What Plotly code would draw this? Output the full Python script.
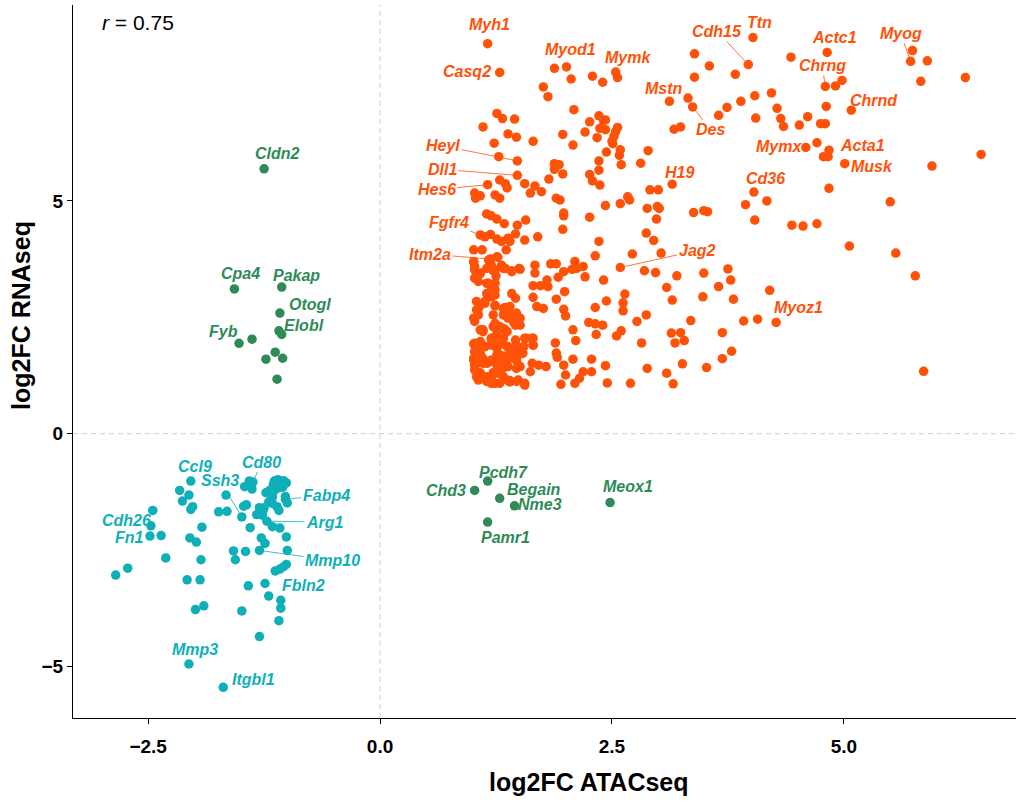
import plotly.graph_objects as go

# ---------------- data (log2FC ATACseq, log2FC RNAseq) ----------------
# Up-regulated (orange) labelled genes
up_genes = ["Myh1", "Casq2", "Myod1", "Mymk", "Cdh15", "Ttn", "Actc1", "Myog", "Chrng", "Mstn",
            "Des", "Chrnd", "Mymx", "Acta1", "Musk", "Cd36", "H19", "Heyl", "Dll1", "Hes6",
            "Fgfr4", "Itm2a", "Jag2", "Myoz1"]
up_gx = [1.16, 1.29, 2.01, 2.54, 3.97, 4.02, 4.82, 5.72, 4.80, 3.12,
         3.37, 5.08, 4.59, 4.84, 5.01, 4.03, 3.15, 1.48, 1.48, 1.16,
         1.08, 1.19, 2.59, 4.27]
up_gy = [8.38, 7.76, 7.88, 7.77, 7.93, 8.51, 8.19, 8.00, 7.46, 7.14,
         7.02, 6.95, 6.15, 6.09, 5.80, 5.19, 5.36, 5.86, 5.55, 5.35,
         4.27, 3.75, 3.57, 2.39]

# Up-regulated (orange) unlabelled genes
up_other = [
    (1.88, 7.85), (2.06, 7.62), (2.29, 7.68), (2.40, 7.55), (2.56, 7.65), (1.76, 7.45), (1.81, 7.24), (2.09, 6.96),
    (1.26, 6.88), (1.32, 6.77), (1.45, 6.76), (1.11, 6.59), (1.38, 6.44), (1.47, 6.37), (1.23, 6.24), (1.65, 6.28),
    (1.97, 6.43), (2.08, 6.20), (2.36, 6.83), (2.41, 6.73), (2.43, 6.74), (2.26, 6.70), (2.21, 6.48), (2.34, 6.36),
    (2.37, 6.56), (2.43, 6.53), (2.56, 6.58), (2.54, 6.49), (2.52, 6.38), (2.50, 6.28), (2.51, 6.23), (2.59, 6.10),
    (2.58, 5.98), (2.44, 6.05), (2.60, 5.78), (2.36, 5.86), (2.36, 5.66), (2.89, 6.08), (2.81, 5.81), (3.32, 7.21),
    (3.39, 7.66), (3.39, 8.16), (3.55, 7.90), (3.65, 6.84), (3.17, 6.54), (3.24, 6.59),
    (1.28, 5.95), (1.29, 5.45), (1.35, 5.37), (1.37, 5.28), (1.56, 5.37), (1.67, 5.32), (1.82, 5.47), (1.88, 5.80),
    (1.93, 5.78), (1.88, 5.68), (1.97, 5.58), (2.26, 5.57), (2.29, 5.43), (2.37, 5.34),
    (3.83, 7.72), (4.43, 8.09), (4.91, 7.47), (4.98, 7.59), (5.74, 8.23), (5.90, 8.01), (5.83, 7.57), (6.31, 7.65),
    (4.04, 7.26), (4.22, 7.32), (3.89, 7.14), (3.74, 7.01), (4.05, 6.78), (4.28, 6.99), (4.32, 6.77), (4.35, 6.60),
    (4.52, 6.63), (4.61, 6.81), (4.81, 7.03), (4.75, 6.66), (4.80, 6.66), (4.71, 6.25), (4.78, 5.95), (4.83, 5.95),
    (5.95, 5.75), (6.48, 6.00), (4.84, 5.27), (4.17, 5.00), (5.50, 4.98), (3.94, 4.92), (4.04, 4.59), (4.44, 4.48),
    (4.56, 4.46), (4.71, 4.51), (5.06, 4.03), (5.56, 3.88), (5.77, 3.39), (5.86, 1.34), (3.75, 3.54), (3.78, 3.30),
    (4.20, 3.08), (3.81, 2.89), (3.92, 2.42), (4.07, 2.46), (3.69, 2.17), (3.79, 1.77), (3.69, 1.61),
    (1.02, 5.17), (1.08, 5.11), (1.03, 5.06), (1.24, 5.13), (1.29, 5.06), (1.62, 5.17), (1.74, 5.20), (1.90, 5.06),
    (1.94, 5.02), (2.43, 4.90), (2.59, 4.94), (2.67, 5.09), (2.69, 5.02), (2.91, 5.24), (3.00, 5.24),
    (1.15, 4.72), (1.20, 4.68), (1.26, 4.61), (1.34, 4.51), (1.48, 4.48), (1.57, 4.59), (1.98, 4.74), (1.98, 4.68),
    (1.97, 4.39), (2.26, 4.65), (2.88, 4.84), (2.99, 4.88), (3.01, 4.84), (2.98, 4.61), (3.38, 4.75), (3.49, 4.79),
    (3.53, 4.77), (1.13, 4.23), (1.19, 4.28), (1.26, 4.18), (1.31, 4.13), (1.38, 4.20), (1.40, 4.13), (1.46, 4.29),
    (1.36, 3.95), (1.56, 4.16), (1.70, 4.23), (2.36, 4.13), (2.87, 4.31), (2.95, 4.15),
    (1.01, 3.95), (1.10, 3.95), (1.27, 3.79), (1.01, 3.70), (2.32, 3.82), (2.72, 3.86), (3.03, 3.88),
    (1.02, 3.52), (1.08, 3.45), (1.15, 3.55), (1.22, 3.50), (1.25, 3.39), (1.33, 3.55), (1.42, 3.50), (1.50, 3.55),
    (1.67, 3.62), (1.67, 3.45), (1.84, 3.65), (1.90, 3.65), (1.92, 3.36), (1.98, 3.48), (2.07, 3.53), (2.10, 3.70),
    (2.12, 3.55), (2.19, 3.59), (2.21, 3.37), (2.41, 3.30), (2.85, 3.50), (2.97, 3.46), (3.20, 3.39), (3.49, 3.45),
    (1.02, 3.34), (1.06, 3.27), (1.17, 3.23), (1.20, 3.14), (1.24, 3.09), (1.15, 3.01), (1.20, 2.94), (1.65, 3.18),
    (1.73, 3.18), (1.80, 3.30), (1.81, 3.16), (1.65, 2.93), (1.90, 2.89), (1.99, 3.05), (2.64, 3.00), (2.62, 2.81),
    (2.44, 2.85), (3.09, 3.14), (3.15, 2.87), (3.48, 2.94), (3.65, 3.16),
    (1.04, 2.84), (1.08, 2.76), (1.06, 2.69), (1.13, 2.80), (1.24, 2.74), (1.35, 2.71), (1.40, 2.73), (1.33, 2.55),
    (1.42, 2.55), (1.47, 2.59), (1.50, 2.48), (1.38, 2.48), (1.01, 2.48), (1.02, 2.41), (1.69, 2.73), (1.76, 2.69),
    (1.98, 2.67), (2.00, 2.53), (2.32, 2.71), (2.62, 2.64), (2.87, 2.55), (2.77, 2.41),
    (1.08, 2.23), (1.11, 2.19), (1.22, 2.30), (1.26, 2.23), (1.33, 2.26), (1.37, 2.19), (1.46, 2.33), (1.51, 2.33),
    (1.24, 2.08), (1.20, 2.03), (1.58, 2.05), (1.65, 2.05), (1.65, 1.90), (2.08, 2.23), (2.25, 2.39), (2.32, 2.36),
    (2.40, 2.33), (2.33, 2.13), (2.55, 2.10), (2.60, 2.21), (3.14, 2.16), (3.24, 2.17), (3.18, 1.95), (3.28, 2.00),
    (3.35, 2.43), (2.82, 1.95), (2.11, 2.00), (1.89, 1.95), (1.90, 1.73), (1.91, 1.64),
    (1.01, 1.93), (1.04, 1.87), (1.02, 1.76), (1.08, 1.73), (1.13, 1.87), (1.20, 1.90), (1.26, 1.83), (1.31, 1.93),
    (1.37, 1.87), (1.47, 1.90), (1.54, 1.73), (1.46, 1.80), (1.29, 1.69), (1.35, 1.67), (1.40, 1.62), (1.01, 1.58),
    (1.06, 1.52), (1.11, 1.51), (1.19, 1.55), (1.26, 1.47), (1.33, 1.51), (1.38, 1.44), (1.47, 1.57), (1.51, 1.44),
    (1.64, 1.51), (1.62, 1.33), (1.71, 1.47), (1.79, 1.44), (1.98, 1.47), (2.08, 1.60), (2.28, 1.60), (2.28, 1.33),
    (2.19, 1.33), (2.43, 1.46), (2.88, 1.40), (3.09, 1.30), (3.26, 1.50), (3.52, 1.42),
    (1.02, 1.37), (1.08, 1.31), (1.06, 1.15), (1.15, 1.22), (1.22, 1.31), (1.29, 1.31), (1.33, 1.22), (1.40, 1.14),
    (1.47, 1.12), (1.56, 1.04), (1.20, 1.08), (1.29, 1.08), (1.95, 1.06), (2.00, 1.26), (2.10, 1.08), (2.15, 1.19),
    (2.45, 1.09), (2.70, 1.08), (3.16, 1.07),
    (1.01, 3.69), (1.02, 3.59), (1.08, 3.44), (1.17, 3.73), (1.20, 3.62), (1.26, 3.80), (1.24, 3.52), (1.31, 3.62),
    (1.35, 3.55), (1.42, 3.48), (1.51, 3.53), (1.15, 3.23), (1.20, 3.16), (1.24, 3.23), (1.22, 3.05), (1.19, 2.98),
    (1.24, 2.98), (1.42, 3.01), (1.46, 2.91), (1.13, 2.84), (1.04, 2.66), (1.06, 2.55), (1.24, 2.76), (1.22, 2.55),
    (1.33, 2.69), (1.37, 2.55), (1.42, 2.48), (1.47, 2.51), (1.51, 2.48), (1.44, 2.40), (1.24, 2.37), (1.29, 2.30),
    (1.35, 2.23), (1.11, 2.23), (1.02, 1.94), (1.08, 1.98), (1.04, 1.83), (1.13, 1.87), (1.20, 2.05), (1.22, 1.94),
    (1.26, 2.12), (1.33, 2.05), (1.38, 1.87), (1.44, 1.80), (1.40, 1.69), (1.46, 2.01), (1.56, 2.05), (1.64, 2.05),
    (1.65, 1.90), (1.55, 1.87), (1.53, 1.72), (1.01, 1.62), (1.04, 1.54), (1.02, 1.47), (1.11, 1.62), (1.15, 1.51),
    (1.20, 1.58), (1.26, 1.69), (1.29, 1.62), (1.33, 1.51), (1.37, 1.44), (1.47, 1.62), (1.47, 1.40), (1.04, 1.22),
    (1.08, 1.19), (1.15, 1.12), (1.20, 1.22), (1.24, 1.08), (1.28, 1.29), (1.31, 1.37), (1.37, 1.15), (1.40, 1.11),
    (1.49, 1.15), (1.56, 1.08),
]

# Discordant (green) genes
mid_genes = ["Cldn2", "Cpa4", "Pakap", "Otogl", "Elobl", "Fyb", "Chd3", "Pcdh7", "Begain", "Nme3", "Pamr1", "Meox1"]
mid_gx = [-1.25, -1.57, -1.06, -1.08, -1.09, -1.52, 1.02, 1.16, 1.29, 1.45, 1.16, 2.48]
mid_gy = [5.69, 3.11, 3.15, 2.59, 2.21, 1.94, -1.22, -1.02, -1.39, -1.55, -1.90, -1.48]
mid_other = [(-1.06, 2.13), (-1.38, 2.03), (-1.13, 1.75), (-1.23, 1.60), (-1.05, 1.62), (-1.11, 1.17)]

# Down-regulated (teal) genes
down_genes = ["Ccl9", "Cd80", "Ssh3", "Fabp4", "Arg1", "Mmp10", "Fbln2", "Cdh26", "Fn1", "Mmp3", "Itgbl1"]
down_gx = [-2.04, -1.37, -1.49, -1.02, -1.22, -1.30, -1.13, -2.47, -2.48, -2.06, -1.69]
down_gy = [-1.02, -1.04, -1.79, -1.41, -1.88, -2.51, -2.95, -1.98, -2.20, -4.95, -5.45]
down_other = [
    (-2.16, -1.22), (-2.06, -1.32), (-2.13, -1.45), (-2.02, -1.57), (-2.04, -1.63), (-2.45, -1.65), (-2.36, -2.19),
    (-1.92, -2.01), (-2.05, -2.24), (-1.98, -2.33), (-2.31, -2.67), (-2.72, -2.89), (-2.85, -3.04), (-1.93, -2.71),
    (-2.08, -3.14), (-1.94, -3.14), (-1.99, -3.78), (-1.90, -3.70), (-1.66, -1.32), (-1.74, -1.68), (-1.65, -1.67),
    (-1.40, -2.02), (-1.58, -2.52), (-1.56, -2.71), (-1.45, -2.53), (-1.42, -3.27), (-1.49, -3.81), (-1.30, -4.36),
    (-1.24, -3.22), (-1.20, -3.49), (-1.07, -3.58), (-1.07, -3.75), (-1.09, -4.02), (-1.08, -2.91), (-1.04, -2.86),
    (-1.01, -2.81), (-1.28, -2.24), (-1.24, -2.36), (-1.01, -2.22), (-1.00, -2.51), (-1.41, -1.02), (-1.46, -1.14),
    (-1.38, -1.19), (-1.14, -1.02), (-1.10, -0.99), (-1.04, -1.01), (-1.01, -1.06), (-1.15, -1.09), (-1.23, -1.27),
    (-1.19, -1.22), (-1.15, -1.25), (-1.10, -1.17), (-1.05, -1.15), (-1.02, -1.35), (-1.00, -1.49), (-1.16, -1.36),
    (-1.20, -1.47), (-1.25, -1.59), (-1.30, -1.59), (-1.26, -1.65), (-1.33, -1.74), (-1.27, -1.75), (-1.11, -1.57),
    (-1.09, -1.65), (-1.16, -1.50), (-1.16, -2.00), (-1.08, -2.03), (-1.47, -1.56), (-1.44, -1.53),
]

r_value = 0.75
x_ticks = [-2.5, 0.0, 2.5, 5.0]
y_ticks = [-5, 0, 5]

# ---------------- styling ----------------
COL_UP = "#FF5208"
COL_MID = "#2E8B57"
COL_DOWN = "#0FAFBA"

# label offsets in pixels (dx, dy) and whether a connector segment is drawn
label_style = {
    "Myh1": (2, -19, False), "Casq2": (-33, -1, False), "Myod1": (4, -17, False), "Mymk": (12, -15, False),
    "Cdh15": (-31, -33, True), "Ttn": (7, -15, False), "Actc1": (7, -15, False), "Myog": (-10, -28, True),
    "Chrng": (-3, -21, True), "Mstn": (-5, -13, False), "Des": (18, 23, True), "Chrnd": (23, -10, False),
    "Mymx": (-27, -1, False), "Acta1": (33, -5, False), "Musk": (27, 3, False), "Cd36": (12, -14, False),
    "H19": (7, -12, False), "Heyl": (-74, -15, True), "Dll1": (-75, -6, True), "Hes6": (-51, 5, True),
    "Fgfr4": (-31, -12, True), "Itm2a": (-60, -5, True), "Jag2": (77, -17, True), "Myoz1": (22, -15, False),
    "Cldn2": (13, -15, False), "Cpa4": (6, -15, False), "Pakap": (15, -12, False), "Otogl": (30, -9, False),
    "Elobl": (25, -5, False), "Fyb": (-16, -12, False), "Chd3": (-29, 0, False), "Pcdh7": (16, -9, False),
    "Begain": (34, -9, False), "Nme3": (25, -1, False), "Pamr1": (18, 15, False), "Meox1": (18, -16, False),
    "Ccl9": (4, -15, False), "Cd80": (9, -20, True), "Ssh3": (-22, -36, True), "Fabp4": (41, -4, True),
    "Arg1": (58, 1, True), "Mmp10": (73, 10, True), "Fbln2": (28, 15, True), "Cdh26": (-24, -5, False),
    "Fn1": (-20, 1, False), "Mmp3": (6, -15, False), "Itgbl1": (30, -8, False),
}

fig = go.Figure()

groups = [
    (up_gx, up_gy, up_other, COL_UP),
    (mid_gx, mid_gy, mid_other, COL_MID),
    (down_gx, down_gy, down_other, COL_DOWN),
]
for gx, gy, other, col in groups:
    xs = [p[0] for p in other] + list(gx)
    ys = [p[1] for p in other] + list(gy)
    fig.add_trace(go.Scatter(x=xs, y=ys, mode="markers",
                             marker=dict(color=col, size=9.5, line=dict(width=0)),
                             showlegend=False, hoverinfo="skip"))

annotations = []
for genes, gx, gy, col in [(up_genes, up_gx, up_gy, COL_UP),
                           (mid_genes, mid_gx, mid_gy, COL_MID),
                           (down_genes, down_gx, down_gy, COL_DOWN)]:
    for g, x, y in zip(genes, gx, gy):
        dx, dy, seg = label_style[g]
        annotations.append(dict(
            x=x, y=y, xref="x", yref="y", ax=dx, ay=dy, axref="pixel", ayref="pixel",
            text="<b><i>%s</i></b>" % g, showarrow=True, arrowhead=0,
            arrowwidth=0.8, arrowcolor=col if seg else "rgba(0,0,0,0)",
            standoff=4 if seg else 0,
            font=dict(family="Arial", size=16, color=col)))

# correlation text
annotations.append(dict(x=(100 - 73) / 943, y=(718 - 22) / 713, xref="paper", yref="paper",
                        xanchor="left", yanchor="middle", showarrow=False,
                        text="<i>r</i> = %.2f" % r_value,
                        font=dict(family="Arial", size=21, color="black")))
# axis titles
annotations.append(dict(x=(589 - 73) / 943, y=0, xref="paper", yref="paper", yshift=-64,
                        xanchor="center", yanchor="middle", showarrow=False,
                        text="<b>log2FC ATACseq</b>", font=dict(family="Arial", size=25, color="black")))
annotations.append(dict(x=0, y=(718 - 316) / 713, xref="paper", yref="paper", xshift=-52,
                        xanchor="center", yanchor="middle", showarrow=False, textangle=-90,
                        text="<b>log2FC RNAseq</b>", font=dict(family="Arial", size=25, color="black")))

shapes = [
    dict(type="line", xref="x", yref="paper", x0=0, x1=0, y0=0, y1=1,
         line=dict(color="#CFCFCF", width=1, dash="5px,4px"), layer="below"),
    dict(type="line", xref="paper", yref="y", x0=0, x1=1, y0=0, y1=0,
         line=dict(color="#CFCFCF", width=1, dash="5px,4px"), layer="below"),
]

fig.update_layout(
    width=1016, height=804,
    margin=dict(l=73, r=0, t=5, b=86),
    plot_bgcolor="white", paper_bgcolor="white",
    annotations=annotations, shapes=shapes,
    xaxis=dict(range=[-3.31, 6.856], showgrid=False, zeroline=False,
               showline=True, linecolor="black", linewidth=1,
               ticks="outside", ticklen=5, tickwidth=1, tickcolor="black",
               tickvals=x_ticks, ticktext=["\u2212" + "%.1f" % abs(v) if v < 0 else "%.1f" % v for v in x_ticks],
               tickfont=dict(family="Arial", size=19, color="black", weight="bold"),
               ticklabelstandoff=6),
    yaxis=dict(range=[-6.11, 9.21], showgrid=False, zeroline=False,
               showline=True, linecolor="black", linewidth=1,
               ticks="outside", ticklen=5, tickwidth=1, tickcolor="black",
               tickvals=y_ticks, ticktext=["\u2212" + str(abs(v)) if v < 0 else str(v) for v in y_ticks],
               tickfont=dict(family="Arial", size=19, color="black", weight="bold")),
)

fig.write_html("out.html")
